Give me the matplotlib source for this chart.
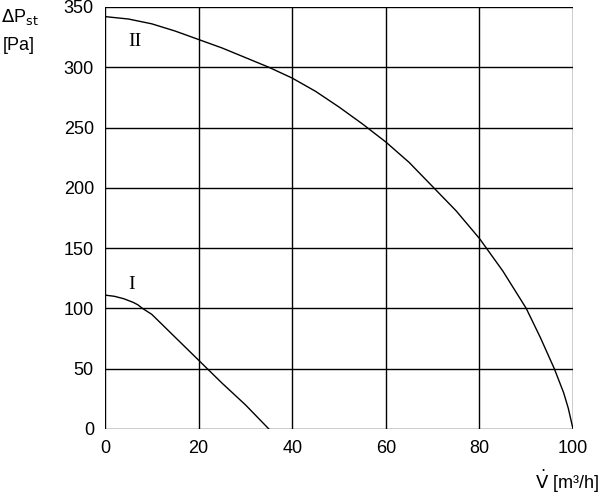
import matplotlib
matplotlib.use("Agg")
import matplotlib.pyplot as plt

x2 = [0, 5, 10, 15, 20, 25, 30, 35, 40, 45, 50, 55, 60, 65, 70, 75, 80, 85, 90, 93, 96, 98, 99, 100]
y2 = [342, 340, 336, 330, 323, 316, 308, 300, 291, 280, 267, 253, 238, 221, 201, 181, 158, 131, 100, 76, 50, 30, 17, 0]
x1 = [0, 2, 4, 6, 7, 8, 10, 15, 20, 25, 30, 35]
y1 = [111, 110, 108, 105, 103, 100, 95, 76, 57, 38, 20, 0]
xticks = [0, 20, 40, 60, 80, 100]
yticks = [0, 50, 100, 150, 200, 250, 300, 350]

plt.rcParams['font.family'] = ['Liberation Sans', 'DejaVu Sans']
fig = plt.figure(figsize=(6, 4.97), dpi=100)
ax = fig.add_axes([0.175, 0.137, 0.78, 0.849])
ax.plot(x2, y2, color='black', lw=1)
ax.plot(x1, y1, color='black', lw=1)
ax.set_xlim(0, 100); ax.set_ylim(0, 350)
ax.set_xticks(xticks); ax.set_yticks(yticks)
ax.grid(True, color='black', lw=1)
for s in ax.spines.values():
    s.set_visible(False)
ax.tick_params(length=0, labelsize=13, pad=8)
ax.text(5, 318, 'II', family='Liberation Serif', fontsize=14)
ax.text(5, 116, 'I', family='Liberation Serif', fontsize=14)
fig.text(0.002, 0.985, r'$\Delta$P$_{\rm st}$', fontsize=13, va='top')
fig.text(0.005, 0.925, '[Pa]', fontsize=13, va='top')
fig.text(0.998, 0.005, r'$\dot{\rm V}$ [m³/h]', fontsize=13, ha='right', va='bottom')
fig.savefig('out.png', dpi=100)
